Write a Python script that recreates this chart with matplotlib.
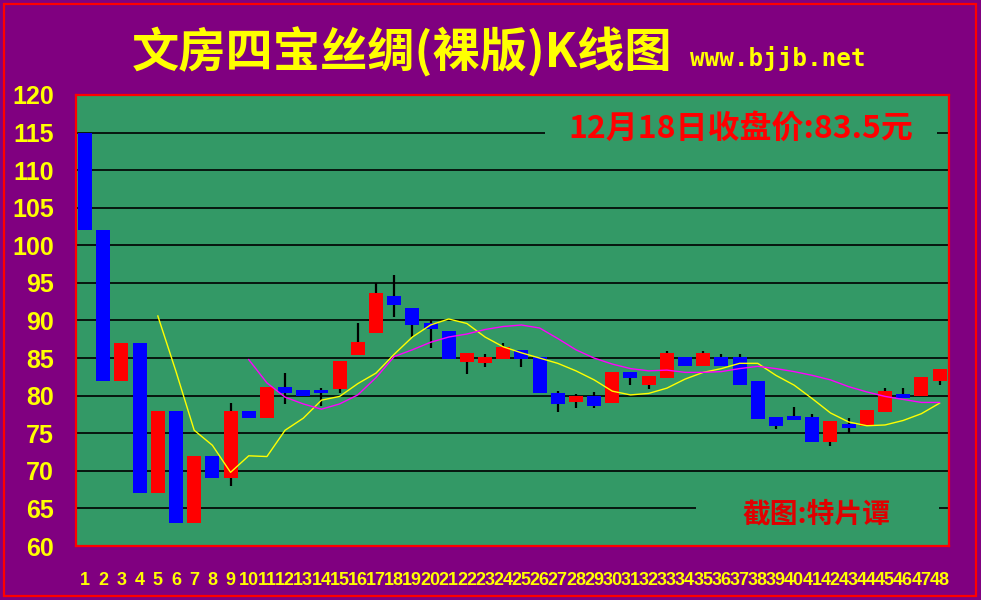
import matplotlib

matplotlib.use("Agg")

import matplotlib.pyplot as plt
from matplotlib import font_manager
from matplotlib.patches import Rectangle

# daily candles
days = list(range(1, 49))
opens = [115, 102, 82, 87, 67, 78, 63, 72, 69, 78,
         77, 81.2, 80.7, 80.8, 80.9, 85.4, 88.4, 93.2, 91.7, 89.7,
         88.6, 84.5, 84.4, 84.9, 86.1, 85.2, 80.4, 79.2, 80.0, 79.0,
         83.2, 81.4, 82.4, 85.2, 83.9, 85.2, 85.2, 82.0, 77.2, 77.3,
         77.2, 73.9, 76.2, 75.9, 77.8, 80.2, 79.9, 81.9]
closes = [102, 82, 87, 67, 78, 63, 72, 69, 78, 77,
          81.2, 80.4, 79.9, 80.4, 84.6, 87.2, 93.7, 92.0, 89.4, 88.9,
          84.9, 85.7, 85.2, 86.5, 84.9, 80.4, 78.9, 80.0, 78.6, 83.2,
          82.4, 82.6, 85.7, 83.9, 85.7, 83.9, 81.4, 76.9, 75.9, 76.8,
          73.9, 76.6, 75.7, 78.1, 80.6, 79.7, 82.5, 83.5]
highs = [115, 102, 87, 87, 78, 78, 72, 72, 79, 78,
         81.2, 83.0, 80.7, 81.0, 84.6, 89.6, 95.0, 96.1, 91.7, 90.0,
         88.6, 85.7, 85.6, 87.0, 86.1, 85.2, 80.6, 80.2, 80.5, 83.2,
         83.2, 82.6, 86.0, 85.2, 86.0, 85.6, 85.6, 82.0, 77.2, 78.5,
         77.6, 76.6, 77.0, 78.1, 81.0, 81.0, 82.5, 83.5]
lows = [102, 82, 82, 67, 67, 63, 63, 69, 68, 77,
        77, 78.9, 79.9, 78.6, 80.4, 85.4, 88.4, 90.4, 87.8, 86.4,
        84.9, 82.9, 83.8, 84.9, 83.8, 80.4, 77.8, 78.3, 78.3, 79.0,
        81.4, 80.9, 82.4, 83.9, 83.9, 83.9, 81.4, 76.9, 75.5, 76.8,
        73.9, 73.3, 75.0, 75.9, 77.8, 79.7, 79.9, 81.4]

# moving-average lines (yellow from day 5, magenta from day 10)
ma5_days = list(range(5, 49))
ma5 = [90.6, 83.2, 75.4, 73.4, 69.8, 72.0, 71.9, 75.4, 77.0, 79.4,
       79.9, 81.6, 83.0, 85.5, 87.8, 89.4, 90.2, 89.6, 87.8, 86.5,
       85.7, 85.0, 84.3, 83.3, 82.1, 80.6, 80.1, 80.3, 81.0, 82.2,
       83.1, 83.6, 84.3, 84.3, 82.7, 81.4, 79.6, 77.7, 76.5, 76.0,
       76.1, 76.7, 77.6, 79.0]
ma10_days = list(range(10, 49))
ma10 = [84.8, 81.7, 79.8, 78.9, 78.2, 78.9, 80.1, 82.4, 85.2, 86.1,
        87.1, 87.8, 88.2, 88.8, 89.2, 89.4, 89.0, 87.6, 86.1, 85.0,
        84.2, 83.6, 83.3, 83.4, 83.1, 83.1, 83.2, 83.6, 83.9, 83.6,
        83.2, 82.7, 82.1, 81.2, 80.5, 79.9, 79.5, 79.1, 79.1]

y_ticks = [60, 65, 70, 75, 80, 85, 90, 95, 100, 105, 110, 115, 120]
x_labels = [str(d) for d in days]

title = "文房四宝丝绸(裸版)K线图"
site = "www.bjjb.net"
close_note = "12月18日收盘价:83.5元"
credit = "截图:特片谭"

PURPLE = "#800080"
GREEN = "#339966"
CJK = ["Noto Sans CJK SC", "DejaVu Sans"]

installed = {f.name for f in font_manager.fontManager.ttflist}
narrow = "Liberation Sans Narrow" if "Liberation Sans Narrow" in installed else "Liberation Sans"

fig = plt.figure(figsize=(9.81, 6.0), dpi=100, facecolor=PURPLE)
ax = fig.add_axes([0.0775, 0.09, 0.8895, 0.7517])
ax.set_facecolor(GREEN)

# bodies and wicks
up = [c >= o for o, c in zip(opens, closes)]
ax.vlines(days, lows, highs, color="black", linewidth=1.6, zorder=2)
ax.bar(days, [abs(c - o) for o, c in zip(opens, closes)], bottom=[min(o, c) for o, c in zip(opens, closes)],
       width=0.77, color=["#ff0000" if u else "#0000ff" for u in up], linewidth=0, zorder=3)
ax.plot(ma5_days, ma5, color="#ffff00", linewidth=1.0, zorder=4)
ax.plot(ma10_days, ma10, color="#ff00ff", linewidth=1.0, zorder=4)

ax.set_xlim(0.5, 48.5)
ax.set_ylim(60, 120)
ax.set_yticks(y_ticks)
ax.set_xticks(days)
ax.set_xticklabels(x_labels, fontfamily=narrow, fontsize=13, fontweight="bold", color="#ffff00")
ax.set_yticklabels([str(v) for v in y_ticks], fontfamily="Liberation Sans", fontsize=18, fontweight="bold", color="#ffff00")
ax.tick_params(axis="both", length=0)
ax.tick_params(axis="y", pad=16)
ax.tick_params(axis="x", pad=19)
ax.set_axisbelow(True)
ax.yaxis.grid(True, color="black", linewidth=1.2)
for sp in ax.spines.values():
    sp.set_color("#ff0000")
    sp.set_linewidth(1.6)

# green patches behind the two notes hide the grid lines there
ax.add_patch(Rectangle((0.538, 0.889), 0.449, 0.067, transform=ax.transAxes, facecolor=GREEN, edgecolor="none", zorder=1))
ax.add_patch(Rectangle((0.71, 0.035), 0.2785, 0.07, transform=ax.transAxes, facecolor=GREEN, edgecolor="none", zorder=1))

fig.text(0.7554, 0.785, close_note, family=CJK, fontsize=23, fontweight="bold", color="#ff0000", ha="center", va="center")
fig.text(0.8318, 0.1417, credit, family=CJK, fontsize=20, fontweight="heavy", color="#e00000", ha="center", va="center")

fig.text(0.1345, 0.913, title, family=CJK, fontsize=34, fontweight="bold", color="#ffff00", ha="left", va="center")
fig.text(0.703, 0.902, site, family="DejaVu Sans Mono", fontsize=17.5, fontweight="bold", color="#ffff00", ha="left", va="center")

# red outer frame
fig.patches.append(Rectangle((4 / 981, 4 / 600), 972 / 981, 592 / 600, transform=fig.transFigure,
                             fill=False, edgecolor="#ff0000", linewidth=1.6))

fig.savefig("out.png", dpi=100, facecolor=PURPLE)
